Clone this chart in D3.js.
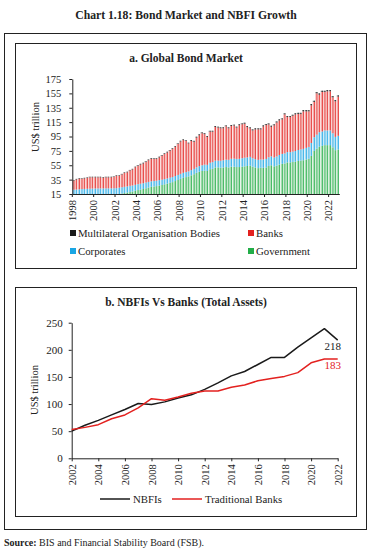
<!DOCTYPE html>
<html>
<head>
<meta charset="utf-8">
<script src="https://cdn.jsdelivr.net/npm/d3@7"></script>
<style>
  body { margin: 0; background: #fff; }
  svg { display: block; font-family: "Liberation Serif", "Times New Roman", serif; }
</style>
</head>
<body>
<svg id="chart" width="373" height="556"></svg>
<script>
// ---- Panel a: global bond market, quarterly, US$ trillion ----
const bondYears = [1998, 1999, 2000, 2001, 2002, 2003, 2004, 2005, 2006, 2007, 2008, 2009, 2010,
  2011, 2012, 2013, 2014, 2015, 2016, 2017, 2018, 2019, 2020, 2021, 2022];
const quarters = bondYears.flatMap(y => ["Q1", "Q2", "Q3", "Q4"].map(q => y + q));
const yearTicksA = ["1998", "2000", "2002", "2004", "2006", "2008", "2010", "2012", "2014", "2016", "2018", "2020", "2022"];
const yTicksA = [15, 35, 55, 75, 95, 115, 135, 155, 175];

const government = [
  12, 12.2, 12.4, 12.6, 12.8, 12.9, 13, 13.1, 13.2, 13.3, 13.3, 13.4, 13.5, 13.6, 13.7, 13.9,
  14.2, 15, 15.6, 16.3, 17, 17.8, 18.5, 19.5, 20.5, 21.2, 22, 23, 24, 25, 25.5, 26,
  26.8, 27.5, 28.5, 29.5, 30.5, 31.5, 33, 34.5, 36, 37.5, 38.5, 39.5, 41, 42.5, 44.5, 46,
  47, 47.5, 47, 49.5, 50, 52, 52, 51.5, 52, 52.5, 52, 53, 53, 52.5, 52.5, 53,
  53.5, 54, 54.5, 53, 52, 51, 51.5, 51.5, 52, 54, 55, 53.5, 54.5, 56, 57, 57.5,
  59, 59, 59.5, 60, 61, 61.5, 62, 63, 64, 68, 75, 78, 81, 82, 83, 83,
  83, 80, 76, 77];
const corporates = [
  9, 9.1, 9.2, 9.3, 9.3, 9.4, 9.4, 9.5, 9.5, 9.5, 9.5, 9.4, 9.4, 9.3, 9.2, 9.1,
  9, 8.9, 8.8, 8.7, 8.6, 8.5, 8.4, 8.3, 8.2, 8.1, 8, 8, 7.8, 7.7, 7.6, 7.5,
  7.5, 7.4, 7.3, 7.2, 7.2, 7.1, 7, 7, 7, 7, 7, 7, 7.2, 7.4, 7.6, 7.8,
  8, 8.3, 8.6, 9, 9.3, 9.5, 9.5, 9.7, 10, 10.3, 10.6, 11, 11.2, 11.3, 11.5, 11.8,
  12, 12, 12.2, 11.8, 11.5, 11.5, 11.5, 11.6, 11.8, 12.2, 12.5, 12.3, 12.8, 13.3, 13.8, 14,
  14.3, 14.2, 14.5, 14.8, 15.2, 15.5, 15.8, 16.2, 16.5, 18, 19, 19.5, 20, 20, 20.5, 20.5,
  20.5, 19.5, 18.5, 19];
const banks = [
  12.7, 13.9, 14.6, 14.3, 14.6, 14.9, 15.8, 15.6, 15.5, 15.4, 15.4, 14.9, 15.3, 15.3, 15.3, 15.7,
  17.0, 16.3, 17.8, 19.2, 19.6, 21.4, 22.3, 24.4, 25.3, 26.7, 27.5, 28.5, 30.2, 31.0, 30.6, 30.2,
  31.6, 33.3, 34.8, 36.1, 37.5, 39.0, 40.8, 43.0, 45.1, 45.5, 43.5, 38.9, 40.5, 37.8, 41.3, 42.9,
  44.5, 42.5, 38.8, 43.2, 42.4, 46.8, 45.9, 45.3, 44.5, 46.4, 43.9, 45.7, 46.0, 43.6, 46.7, 47.2,
  47.2, 42.1, 39.6, 38.7, 41.4, 42.4, 41.9, 45.9, 47.1, 45.6, 41.0, 44.7, 47.2, 48.1, 48.0, 54.3,
  48.7, 48.8, 49.8, 51.0, 50.0, 49.2, 52.2, 50.8, 49.5, 52.4, 49.0, 57.6, 52.2, 54.9, 53.4, 54.4,
  54.4, 50.0, 49.5, 54.5];
const multilateral = [
  0.8, 0.8, 0.8, 0.8, 0.8, 0.8, 0.8, 0.8, 0.8, 0.8, 0.8, 0.8, 0.8, 0.8, 0.8, 0.8,
  0.8, 0.8, 0.8, 0.8, 0.8, 0.8, 0.8, 0.8, 1, 1, 1, 1, 1, 1, 1, 1,
  1, 1, 1, 1, 1, 1, 1, 1, 1, 1, 1, 1, 1.3, 1.3, 1.3, 1.3,
  1.3, 1.3, 1.3, 1.3, 1.3, 1.3, 1.3, 1.3, 1.3, 1.3, 1.3, 1.3, 1.3, 1.3, 1.3, 1.3,
  1.5, 1.5, 1.5, 1.5, 1.5, 1.5, 1.5, 1.5, 1.5, 1.5, 1.5, 1.5, 1.5, 1.5, 1.5, 1.5,
  1.5, 1.5, 1.5, 1.5, 1.8, 1.8, 1.8, 1.8, 1.8, 1.8, 1.8, 1.8, 1.8, 1.8, 1.8, 1.8,
  1.8, 1.8, 1.8, 1.8];

// ---- Panel b: NBFIs vs banks, annual, US$ trillion ----
const assetYears = [2002, 2003, 2004, 2005, 2006, 2007, 2008, 2009, 2010, 2011, 2012,
  2013, 2014, 2015, 2016, 2017, 2018, 2019, 2020, 2021, 2022];
const nbfis = [50, 61, 70, 80, 90, 101, 99, 104, 111, 117, 127, 139, 152, 160, 173, 186, 186, 205, 222, 239, 218];
const tradBanks = [53, 57, 62, 73, 80, 93, 110, 107, 113, 120, 124, 124, 131, 135, 143, 147, 151, 158, 176, 183, 183];
const yearTicksB = [2002, 2004, 2006, 2008, 2010, 2012, 2014, 2016, 2018, 2020, 2022];
const yTicksB = [0, 50, 100, 150, 200, 250];

const svg = d3.select("#chart");

// Titles and frames
svg.append("text").attr("x", 186).attr("y", 19).attr("text-anchor", "middle")
  .attr("font-weight", "bold").attr("font-size", 11.7).attr("fill", "#222")
  .text("Chart 1.18: Bond Market and NBFI Growth");

svg.append("rect").attr("x", 4.5).attr("y", 33.5).attr("width", 362).attr("height", 496)
  .attr("fill", "none").attr("stroke", "#222").attr("stroke-width", 1);
svg.append("rect").attr("x", 15.5).attr("y", 43.5).attr("width", 341).attr("height", 225)
  .attr("fill", "none").attr("stroke", "#222").attr("stroke-width", 1);
svg.append("rect").attr("x", 15.5).attr("y", 287.5).attr("width", 341).attr("height", 229)
  .attr("fill", "none").attr("stroke", "#222").attr("stroke-width", 1);

// ---------- Panel a ----------
svg.append("text").attr("x", 186).attr("y", 62).attr("text-anchor", "middle")
  .attr("font-weight", "bold").attr("font-size", 11.5).attr("fill", "#222")
  .text("a. Global Bond Market");

const xA = d3.scaleBand().domain(quarters).range([72.3, 339.3]).padding(0);
const yA = d3.scaleLinear().domain([15, 175]).range([194, 79]);

const seriesA = [
  { key: "government", values: government, light: "#a9ddb3", dark: "#22ad48" },
  { key: "corporates", values: corporates, light: "#a6dbf3", dark: "#1aa6e4" },
  { key: "banks", values: banks, light: "#f3aaa8", dark: "#e3211f" },
  { key: "multilateral", values: multilateral, light: "#777", dark: "#1a1a1a" }
];
const rows = quarters.map((q, i) => {
  const r = { q };
  seriesA.forEach(s => r[s.key] = s.values[i]);
  return r;
});
const stacked = d3.stack().keys(seriesA.map(s => s.key))(rows);

svg.append("clipPath").attr("id", "clipA").append("rect")
  .attr("x", 72).attr("y", 70).attr("width", 270).attr("height", 124);

const barW = xA.step() * 0.72;
const gBars = svg.append("g").attr("clip-path", "url(#clipA)");
stacked.forEach((layer, li) => {
  const s = seriesA[li];
  const g = gBars.append("g");
  g.selectAll("rect.l").data(layer).enter().append("rect")
    .attr("x", d => xA(d.data.q) + 0.2)
    .attr("y", d => yA(d[1]))
    .attr("width", barW)
    .attr("height", d => Math.max(0, yA(d[0]) - yA(d[1])))
    .attr("fill", s.light);
  g.selectAll("rect.d").data(layer).enter().append("rect")
    .attr("x", d => xA(d.data.q) + 0.2 + barW - 0.7)
    .attr("y", d => yA(d[1]))
    .attr("width", 0.7)
    .attr("height", d => Math.max(0, yA(d[0]) - yA(d[1])))
    .attr("fill", s.dark);
});

// y axis a
const yAxisA = svg.append("g").attr("transform", "translate(72.3,0)")
  .call(d3.axisLeft(yA).tickValues(yTicksA).tickSize(3).tickSizeOuter(0).tickPadding(8));
yAxisA.select(".domain").attr("stroke", "#222");
yAxisA.selectAll(".tick line").attr("stroke", "#222");
yAxisA.selectAll("text").attr("font-size", 10.5).attr("font-family", "Liberation Serif").attr("fill", "#222");

svg.append("text").attr("transform", "translate(39,127) rotate(-90)")
  .attr("text-anchor", "middle").attr("font-size", 10.5).attr("fill", "#222").text("US$ trillion");

// x axis a
const xAxisA = svg.append("g").attr("transform", "translate(0,194)")
  .call(d3.axisBottom(xA).tickValues(yearTicksA.map(y => y + "Q1")).tickSize(3).tickSizeOuter(0)
    .tickFormat(q => q.slice(0, 4)));
xAxisA.selectAll(".tick").attr("transform", d => `translate(${xA(d)},0)`);
xAxisA.select(".domain").attr("stroke", "#222");
xAxisA.selectAll(".tick line").attr("stroke", "#222");
xAxisA.selectAll("text")
  .attr("transform", "rotate(-90)").attr("x", -6).attr("y", 0).attr("dy", "0.35em")
  .attr("text-anchor", "end").attr("font-size", 10.5).attr("font-family", "Liberation Serif").attr("fill", "#222");

// legend a
const legendA = [
  { label: "Multilateral Organisation Bodies", color: "#1a1a1a", x: 70, y: 233 },
  { label: "Banks", color: "#e3211f", x: 248, y: 233 },
  { label: "Corporates", color: "#1aa6e4", x: 70, y: 251 },
  { label: "Government", color: "#22ad48", x: 248, y: 251 }
];
const lgA = svg.append("g").selectAll("g").data(legendA).enter().append("g")
  .attr("transform", d => `translate(${d.x},${d.y})`);
lgA.append("rect").attr("x", 0).attr("y", -3).attr("width", 6).attr("height", 6).attr("fill", d => d.color);
lgA.append("text").attr("x", 8).attr("y", 3.5).attr("font-size", 10.8).attr("fill", "#222").text(d => d.label);

// ---------- Panel b ----------
svg.append("text").attr("x", 186).attr("y", 306).attr("text-anchor", "middle")
  .attr("font-weight", "bold").attr("font-size", 11.5).attr("fill", "#222")
  .text("b. NBFIs Vs Banks (Total Assets)");

const xB = d3.scaleLinear().domain([2002, 2022]).range([71.7, 337.7]);
const yB = d3.scaleLinear().domain([0, 250]).range([458.3, 322.7]);

const yAxisB = svg.append("g").attr("transform", "translate(71.7,0)")
  .call(d3.axisLeft(yB).tickValues(yTicksB).tickSize(3).tickSizeOuter(0).tickPadding(6));
yAxisB.select(".domain").attr("stroke", "#222");
yAxisB.selectAll(".tick line").attr("stroke", "#222");
yAxisB.selectAll("text").attr("font-size", 11).attr("font-family", "Liberation Serif").attr("fill", "#222");

svg.append("text").attr("transform", "translate(38,390) rotate(-90)")
  .attr("text-anchor", "middle").attr("font-size", 10.5).attr("fill", "#222").text("US$ trillion");

const xAxisB = svg.append("g").attr("transform", "translate(0,458.3)")
  .call(d3.axisBottom(xB).tickValues(yearTicksB).tickSize(3).tickSizeOuter(0).tickFormat(d3.format("d")));
xAxisB.select(".domain").attr("stroke", "#222");
xAxisB.selectAll(".tick line").attr("stroke", "#222");
xAxisB.selectAll("text")
  .attr("transform", "rotate(-90)").attr("x", -6).attr("y", 0).attr("dy", "0.35em")
  .attr("text-anchor", "end").attr("font-size", 10.5).attr("font-family", "Liberation Serif").attr("fill", "#222");

const lineB = d3.line().x(d => xB(d[0])).y(d => yB(d[1]));
const seriesB = [
  { label: "NBFIs", values: nbfis, color: "#1a1a1a" },
  { label: "Traditional Banks", values: tradBanks, color: "#e3211f" }
];
seriesB.forEach(s => {
  svg.append("path").datum(assetYears.map((y, i) => [y, s.values[i]]))
    .attr("d", lineB).attr("fill", "none").attr("stroke", s.color).attr("stroke-width", 1.5)
    .attr("stroke-linejoin", "round");
});

// end labels
seriesB.forEach(s => {
  const last = s.values[s.values.length - 1];
  svg.append("text").attr("x", xB(2022) - 5).attr("y", yB(last) + 10)
    .attr("text-anchor", "middle").attr("font-size", 11).attr("fill", s.color).text(last);
});

// legend b
const legendB = [
  { label: "NBFIs", color: "#1a1a1a", x: 100 },
  { label: "Traditional Banks", color: "#e3211f", x: 172 }
];
const lgB = svg.append("g").selectAll("g").data(legendB).enter().append("g")
  .attr("transform", d => `translate(${d.x},499)`);
lgB.append("line").attr("x1", 0).attr("x2", 30).attr("y1", 0).attr("y2", 0)
  .attr("stroke", d => d.color).attr("stroke-width", 1.5);
lgB.append("text").attr("x", 33).attr("y", 3.5).attr("font-size", 10.8).attr("fill", "#222").text(d => d.label);

// source
const src = svg.append("text").attr("x", 4).attr("y", 546).attr("font-size", 10).attr("fill", "#222");
src.append("tspan").attr("font-weight", "bold").text("Source:");
src.append("tspan").text(" BIS and Financial Stability Board (FSB).");
</script>
</body>
</html>
